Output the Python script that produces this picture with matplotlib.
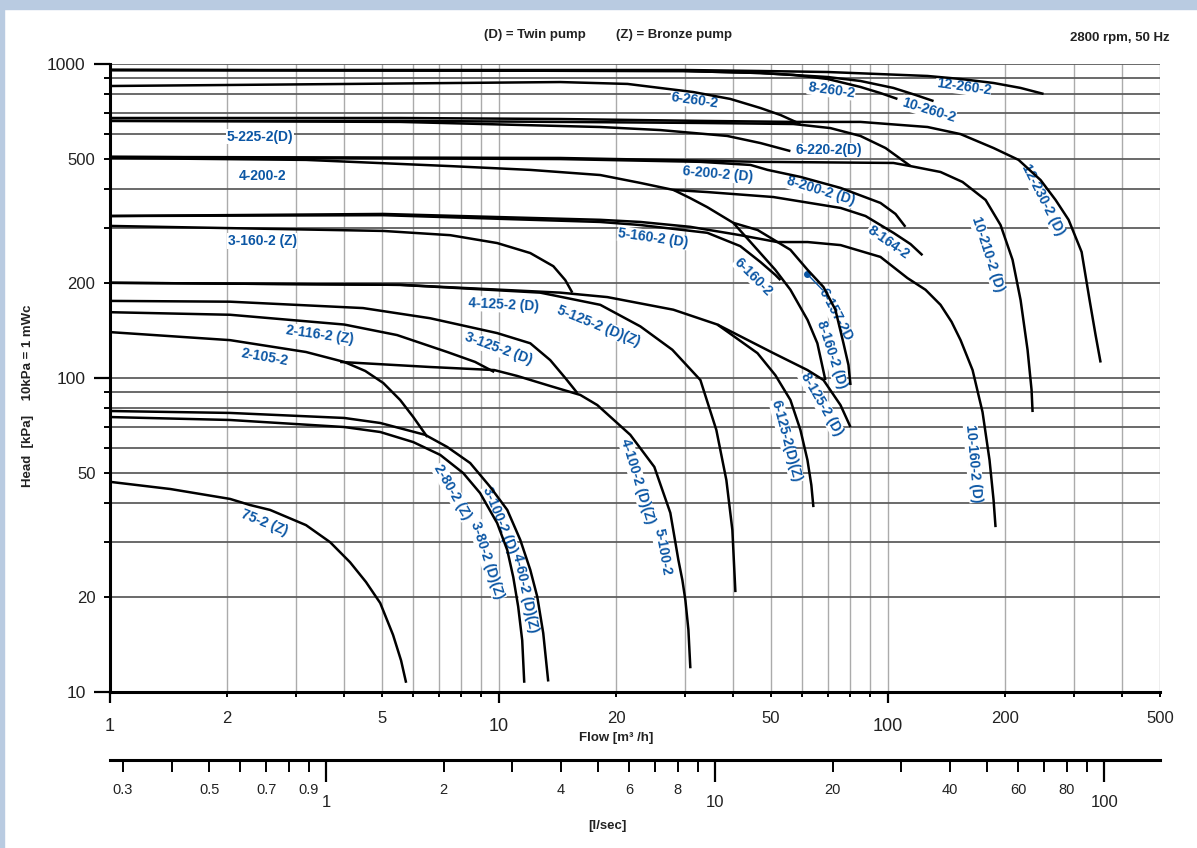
import numpy as np
import matplotlib
matplotlib.use("Agg")
import matplotlib.pyplot as plt
from matplotlib.ticker import FixedLocator, FuncFormatter
from matplotlib.patches import Rectangle

plt.rcParams['font.family'] = ['Liberation Sans', 'DejaVu Sans']

# ---- pump curves: flow Q [m3/h] and head H [kPa] ----
q_12_260 = [1.0, 29.8, 47.0, 69.9, 126.3, 153.6, 186.7, 219.1, 251.0]
h_12_260 = [957, 957, 950, 943, 916, 896, 870, 839, 803]

q_10_260 = [1.0, 29.8, 47.0, 69.9, 84.9, 103.2, 117.6, 130.9]
h_10_260 = [957, 950, 936, 909, 883, 839, 797, 762]

q_8_260 = [1.0, 29.8, 47.0, 57.1, 69.9, 84.9, 95.6, 105.7]
h_8_260 = [957, 950, 936, 923, 896, 845, 808, 774]

q_6_260 = [1.0, 4.14, 14.37, 21.4, 31.6, 39.3, 47.0, 52.9, 59.5]
h_6_260 = [851, 864, 876, 864, 814, 774, 724, 688, 644]

q_12_230 = [1.0, 5.57, 14.37, 32.9, 57.1, 84.9, 126.3, 153.6, 186.7, 216.5, 246.6, 269.5,
            291.1, 314.4, 329.6, 341.5, 351.8]
h_12_230 = [673, 673, 668, 659, 654, 654, 630, 598, 540, 495, 427, 369,
            319, 252, 177, 137, 112]

q_5_225 = [1.0, 5.57, 14.37, 32.9, 57.1, 71.1, 84.9, 98.5, 114.2]
h_5_225 = [659, 659, 654, 649, 644, 625, 590, 540, 473]

q_6_220 = [1.0, 5.57, 18.2, 26.0, 38.6, 47.0, 56.1]
h_6_220 = [659, 654, 630, 616, 590, 560, 528]

q_10_210 = [1.0, 14.37, 47.0, 103.2, 114.2, 136.4, 155.4, 178.1, 194.6, 208.9, 219.1, 228.3, 233.8, 235.2]
h_10_210 = [506, 502, 488, 484, 473, 453, 421, 369, 307, 238, 177, 123, 91.6, 77.9]

q_8_200 = [1.0, 14.37, 32.9, 44.3, 49.0, 59.5, 75.5, 95.6, 104.5, 110.8]
h_8_200 = [506, 498, 488, 477, 460, 437, 403, 361, 333, 303]

q_4_200 = [1.0, 3.19, 7.49, 12.03, 18.2, 23.1, 28.1, 31.0, 34.3, 40.0, 44.3, 51.3, 56.1, 62.1, 65.8, 69.0]
h_4_200 = [502, 495, 473, 460, 443, 418, 397, 374, 350, 312, 271, 221, 191, 153, 129, 98.5]

q_8_164 = [28.1, 34.3, 50.7, 75.5, 87.5, 103.2, 114.2, 122.6]
h_8_164 = [397, 391, 377, 348, 328, 290, 267, 246]

q_10_160 = [1.0, 5.04, 18.2, 23.1, 31.0, 41.7, 51.9, 62.1, 75.5, 95.6, 112.2, 124.8, 136.4, 145.6,
            153.6, 164.9, 174.9, 182.3, 186.7, 188.9]
h_10_160 = [328, 333, 319, 314, 303, 285, 271, 271, 265, 243, 208, 191, 171, 151,
            132, 106, 77.9, 54.8, 40.9, 33.5]

q_6_160 = [1.0, 5.04, 18.2, 23.1, 34.3, 41.7, 47.0, 51.3, 52.9]
h_6_160 = [328, 330, 314, 307, 290, 263, 234, 213, 205]

q_8_160 = [40.0, 46.2, 56.1, 62.1, 68.2, 73.2, 76.8, 79.1, 80.05]
h_8_160 = [312, 296, 256, 221, 195, 165, 129, 110, 95.0]

q_3_160 = [1.0, 5.04, 7.49, 9.89, 12.03, 13.79, 14.80, 15.43]
h_3_160 = [305, 294, 285, 269, 250, 227, 205, 187]

q_8_125 = [1.0, 5.57, 14.37, 18.98, 28.06, 36.41, 50.73, 62.05, 68.23, 75.45, 80.05]
h_8_125 = [201, 198, 187, 181, 165, 148, 120, 106, 98.5, 82.0, 69.8]

q_6_125 = [36.41, 46.16, 51.34, 56.10, 59.53, 62.05, 63.5, 64.28]
h_6_125 = [148, 120, 102, 85.1, 68.3, 54.8, 45.6, 38.8]

q_5_125 = [1.0, 5.57, 12.76, 18.21, 23.08, 27.89, 32.93, 36.19, 38.40, 39.79, 40.51]
h_5_125 = [201, 198, 187, 171, 146, 123, 98.5, 68.3, 47.3, 32.8, 20.8]

q_3_125 = [1.0, 2.035, 4.47, 6.65, 9.89, 12.03, 13.54, 14.80, 15.89]
h_3_125 = [176, 175, 167, 155, 139, 129, 114, 100, 89.6]

q_4_100 = [3.905, 6.65, 9.72, 11.14, 13.54, 16.18, 17.89, 21.75, 25.07, 27.56, 28.91, 29.60, 30.13, 30.67, 31.03]
h_4_100 = [112.5, 108.4, 106.0, 101.5, 94.3, 88.3, 82.0, 65.9, 52.1, 37.2, 26.3, 22.7, 19.6, 15.8, 11.9]

q_2_116 = [1.0, 2.035, 4.0, 5.47, 7.36, 8.68, 9.72]
h_2_116 = [162, 159, 148, 137, 121, 112.5, 104.5]

q_2_105 = [1.0, 2.035, 3.19, 4.0, 4.53, 5.04, 5.57, 6.02, 6.54]
h_2_105 = [140, 132, 121, 112.5, 105.3, 96.4, 85.1, 75.1, 64.9]

q_3_100 = [1.0, 2.035, 4.0, 4.95, 6.46, 7.36, 8.43, 9.49, 10.50, 11.34, 12.03, 12.54, 12.99, 13.38]
h_3_100 = [78.5, 77.4, 74.6, 71.9, 65.9, 60.3, 53.6, 45.0, 38.0, 30.5, 24.5, 20.1, 15.4, 10.8]

q_2_80 = [1.0, 2.035, 4.0, 4.95, 6.02, 7.06, 8.09, 8.94, 9.89, 10.50, 10.88, 11.20, 11.47, 11.61]
h_2_80 = [75.1, 73.5, 69.8, 67.3, 62.5, 56.9, 49.8, 43.0, 34.5, 28.3, 23.2, 18.7, 14.6, 10.7]

q_75_2 = [1.0, 1.43, 2.035, 2.29, 2.58, 3.19, 3.68, 4.14, 4.55, 4.95, 5.34, 5.60, 5.77]
h_75_2 = [46.7, 44.3, 41.2, 39.4, 38.0, 34.0, 30.0, 25.9, 22.4, 19.2, 15.2, 12.6, 10.7]

# ---- curve labels ----
label_text = ["12-260-2", "8-260-2", "10-260-2", "6-260-2", "5-225-2(D)", "6-220-2(D)",
              "4-200-2", "6-200-2 (D)", "8-200-2 (D)", "12-230-2 (D)", "8-164-2", "10-210-2 (D)",
              "3-160-2 (Z)", "5-160-2 (D)", "6-160-2", "6-157-2D", "8-160-2 (D)", "8-125-2 (D)",
              "6-125-2(D)(Z)", "10-160-2 (D)", "4-125-2 (D)", "5-125-2 (D)(Z)", "2-116-2 (Z)",
              "3-125-2 (D)", "2-105-2", "2-80-2 (Z)", "3-100-2 (D)", "3-80-2 (D)(Z)",
              "4-60-2 (D)(Z)", "75-2 (Z)", "4-100-2 (D)(Z)", "5-100-2"]
label_q = [156.3, 71.5, 127.0, 31.8, 2.43, 70.3,
           2.46, 36.4, 67.0, 249.5, 100.2, 180.2,
           2.46, 24.9, 45.1, 73.2, 71.5, 67.4,
           54.8, 165.9, 10.25, 17.99, 3.47,
           9.95, 2.49, 7.58, 10.07, 9.32,
           11.68, 2.50, 22.7, 26.3]
label_h = [845, 826, 714, 768, 586, 532,
           440, 446, 394, 369, 271, 248,
           273, 279, 210, 158.8, 118.4, 82.6,
           63.0, 53.6, 170.8, 146.4, 137.1,
           123.7, 116.7, 43.4, 35.3, 26.3,
           20.7, 34.5, 47.0, 27.9]
label_rot = [-8, -8, -17, -8, 0, 0,
             0, -5, -17, -63, -35, -72,
             0, -8, -45, -62, -72, -60,
             -75, -85, -3, -22, -8,
             -20, -10, -60, -68, -72,
             -78, -22, -73, -80]

# marker for 6-157-2D
dot_q = [62.05, 67.8]
dot_h = [214, 191]

# ---- axis ticks ----
x_major = [1, 10, 100]
x_minor = [2, 3, 4, 5, 6, 7, 8, 9, 20, 30, 40, 50, 60, 70, 80, 90, 200, 300, 400, 500]
x_minor_shown = [2, 5, 20, 50, 200, 500]
y_major = [10, 100, 1000]
y_minor = [20, 30, 40, 50, 60, 70, 80, 90, 200, 300, 400, 500, 600, 700, 800, 900]
y_minor_shown = [20, 50, 200, 500]
ls_major = [1, 10, 100]
ls_minor = [0.3, 0.4, 0.5, 0.6, 0.7, 0.8, 0.9, 2, 3, 4, 5, 6, 7, 8, 9, 20, 30, 40, 50, 60, 70, 80, 90]
ls_minor_shown = [0.3, 0.5, 0.7, 0.9, 2, 4, 6, 8, 20, 40, 60, 80]

BLUE = '#0b56a4'
W, H = 1197, 848

fig = plt.figure(figsize=(W / 100, H / 100), dpi=100)
fig.patch.set_facecolor('white')
fig.add_artist(Rectangle((0, 1 - 9 / H), 1, 9 / H, transform=fig.transFigure,
                         color='#b9cbe1', zorder=0))
fig.add_artist(Rectangle((0, 0), 4 / W, 1, transform=fig.transFigure,
                         color='#b9cbe1', zorder=0))

ax = fig.add_axes([110 / W, 156 / H, 1050 / W, 628 / H])
ax.set_xscale('log')
ax.set_yscale('log')
ax.set_xlim(1, 500)
ax.set_ylim(10, 1000)

# grid
for v in x_minor + [10, 100]:
    ax.axvline(v, color='#ababab', lw=1.0, zorder=1)
for v in y_minor + [100, 1000]:
    ax.axhline(v, color='#5e5e5e', lw=1.3, zorder=1)

curves = [(q_12_260, h_12_260), (q_10_260, h_10_260), (q_8_260, h_8_260), (q_6_260, h_6_260),
          (q_12_230, h_12_230), (q_5_225, h_5_225), (q_6_220, h_6_220), (q_10_210, h_10_210),
          (q_8_200, h_8_200), (q_4_200, h_4_200), (q_8_164, h_8_164), (q_10_160, h_10_160),
          (q_6_160, h_6_160), (q_8_160, h_8_160), (q_3_160, h_3_160), (q_8_125, h_8_125),
          (q_6_125, h_6_125), (q_5_125, h_5_125), (q_3_125, h_3_125), (q_4_100, h_4_100),
          (q_2_116, h_2_116), (q_2_105, h_2_105), (q_3_100, h_3_100), (q_2_80, h_2_80),
          (q_75_2, h_75_2)]
for q, h in curves:
    ax.plot(q, h, color='black', lw=1.8, solid_joinstyle='round', solid_capstyle='butt', zorder=3)

narrow = ['Liberation Sans Narrow', 'Liberation Sans', 'DejaVu Sans']
for t, q, h, r in zip(label_text, label_q, label_h, label_rot):
    ax.text(q, h, t, rotation=r, rotation_mode='anchor', ha='center', va='center',
            color=BLUE, fontsize=10, fontweight='bold', family=narrow, zorder=2,
            bbox=dict(facecolor='white', edgecolor='none', pad=0.4))

ax.plot(dot_q, dot_h, color=BLUE, lw=1.0, zorder=2)
ax.plot(dot_q[:1], dot_h[:1], 'o', color=BLUE, ms=4, zorder=2)

# spines
for s in ['top', 'right']:
    ax.spines[s].set_visible(False)
for s in ['left', 'bottom']:
    ax.spines[s].set_linewidth(2.2)
    ax.spines[s].set_zorder(4)


def pick(shown):
    return FuncFormatter(lambda v, p: f"{v:g}" if any(np.isclose(v, s) for s in shown) else "")


ax.xaxis.set_major_locator(FixedLocator(x_major))
ax.xaxis.set_minor_locator(FixedLocator(x_minor))
ax.xaxis.set_major_formatter(FuncFormatter(lambda v, p: f"{v:g}"))
ax.xaxis.set_minor_formatter(pick(x_minor_shown))
ax.yaxis.set_major_locator(FixedLocator(y_major))
ax.yaxis.set_minor_locator(FixedLocator(y_minor))
ax.yaxis.set_major_formatter(FuncFormatter(lambda v, p: f"{v:g}"))
ax.yaxis.set_minor_formatter(pick(y_minor_shown))

ax.tick_params(axis='x', which='major', length=8, width=1.6, pad=11, labelsize=13, labelcolor='#222222')
ax.tick_params(axis='x', which='minor', length=3.6, width=1.4, pad=10, labelsize=12, labelcolor='#222222')
ax.tick_params(axis='y', which='major', length=11.5, width=1.6, pad=6, labelsize=12.5, labelcolor='#222222')
ax.tick_params(axis='y', which='minor', length=4, width=1.4, pad=6.5, labelsize=12, labelcolor='#222222')

# second flow scale in l/sec
sec = ax.secondary_xaxis(-68 / 628, functions=(lambda q: q / 3.6, lambda l: l * 3.6))
sec.xaxis.set_major_locator(FixedLocator(ls_major))
sec.xaxis.set_minor_locator(FixedLocator(ls_minor))
sec.xaxis.set_major_formatter(FuncFormatter(lambda v, p: f"{v:g}"))
sec.xaxis.set_minor_formatter(pick(ls_minor_shown))
sec.spines['bottom'].set_linewidth(2.2)
sec.tick_params(axis='x', which='major', length=16, width=1.6, pad=9, labelsize=12, labelcolor='#222222')
sec.tick_params(axis='x', which='minor', length=8.6, width=1.4, pad=8, labelsize=10.5, labelcolor='#222222')

# texts
fig.text(535 / W, 1 - 35 / H, "(D) = Twin pump", ha='center', va='center', fontsize=9.5,
         fontweight='bold', color='#222222')
fig.text(674 / W, 1 - 35 / H, "(Z) = Bronze pump", ha='center', va='center', fontsize=9.5,
         fontweight='bold', color='#222222')
fig.text(1120 / W, 1 - 38 / H, "2800 rpm, 50 Hz", ha='center', va='center', fontsize=9.5,
         fontweight='bold', color='#222222')
fig.text(28 / W, 1 - 396 / H, "Head  [kPa]    10kPa = 1 mWc", rotation=90, ha='center', va='center',
         fontsize=9.5, fontweight='bold', color='#222222')
fig.text(616 / W, 1 - 738 / H, "Flow [m³ /h]", ha='center', va='center', fontsize=9.5,
         fontweight='bold', color='#222222')
fig.text(607 / W, 1 - 826 / H, "[l/sec]", ha='center', va='center', fontsize=9.5,
         fontweight='bold', color='#222222')

fig.savefig("out.png", dpi=100, facecolor='white')
